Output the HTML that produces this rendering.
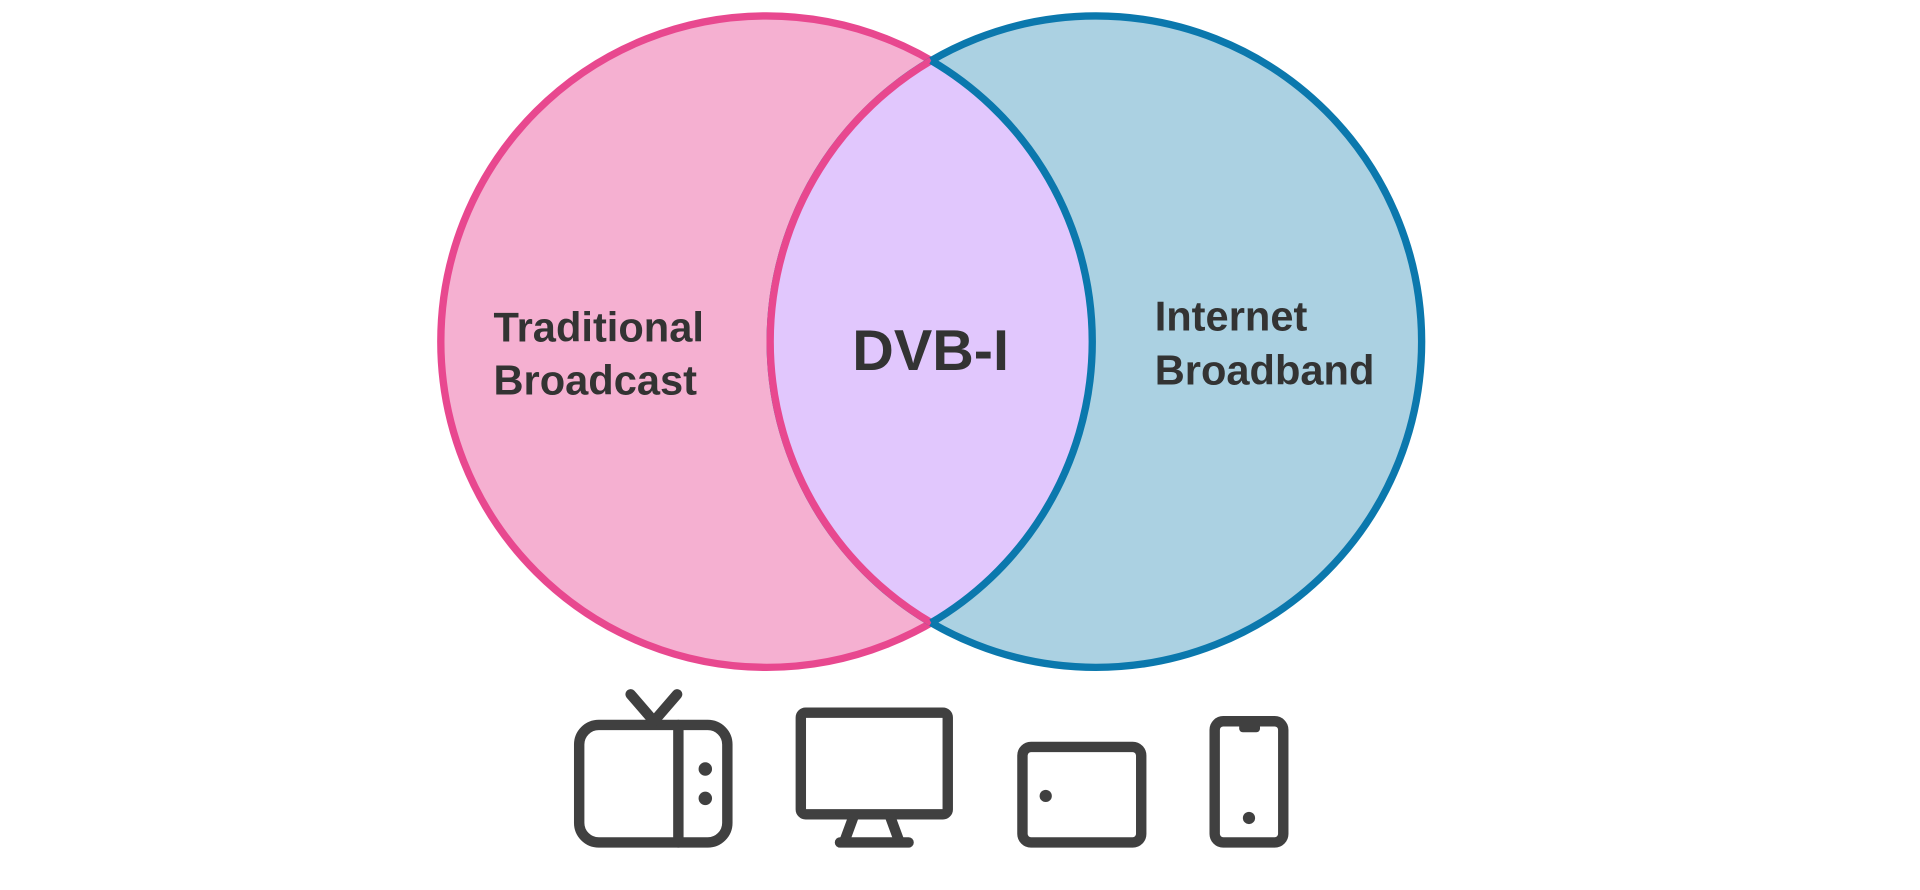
<!DOCTYPE html>
<html><head><meta charset="utf-8"><style>
html,body{margin:0;padding:0;background:#fff;width:1920px;height:890px;overflow:hidden}
svg{display:block}
text{font-family:"Liberation Sans",sans-serif;font-weight:bold;fill:#333}
</style></head><body>
<svg width="1920" height="890" viewBox="0 0 1568 726.8">
<circle cx="626" cy="279" r="266" fill="#f5b0d1" stroke="#e8488f" stroke-width="6"/>
<circle cx="895" cy="279" r="266" fill="#abd1e2" stroke="#0b78ad" stroke-width="6"/>
<path d="M760.5 49.5 A266 266 0 0 0 760.5 508.5 A266 266 0 0 0 760.5 49.5 Z" fill="#e1c7fd"/>
<path d="M760.5 49.5 A266 266 0 0 0 760.5 508.5" fill="none" stroke="#e8488f" stroke-width="6"/>
<path d="M760.5 49.5 A266 266 0 0 1 760.5 508.5" fill="none" stroke="#0b78ad" stroke-width="6"/>
<text x="403" y="279" font-size="34">Traditional</text>
<text x="403" y="322" font-size="34">Broadcast</text>
<text x="760" y="302" font-size="47" text-anchor="middle">DVB-I</text>
<text x="943" y="270" font-size="34">Internet</text>
<text x="943" y="314" font-size="34">Broadband</text>
<g fill="none" stroke="#404040" stroke-width="8.5" stroke-linecap="round" stroke-linejoin="round">
<rect x="473" y="592" width="121" height="96" rx="16"/>
<line x1="554" y1="592" x2="554" y2="688"/>
<polyline points="515,567 534,589 553,567"/>
<rect x="654" y="582" width="120" height="83" rx="4"/>
<line x1="697" y1="667" x2="690" y2="686"/>
<line x1="727" y1="667" x2="734" y2="686"/>
<line x1="686" y1="688" x2="742" y2="688"/>
<rect x="835" y="610" width="97" height="78" rx="7"/>
<rect x="992" y="589" width="56" height="99" rx="7"/>
</g>
<g fill="#404040">
<circle cx="576" cy="628" r="5.5"/>
<circle cx="576" cy="652" r="5.5"/>
<circle cx="854" cy="650" r="5"/>
<circle cx="1020" cy="668" r="5"/>
<rect x="1012" y="588" width="17" height="10" rx="3"/>
</g>
</svg>
</body></html>
